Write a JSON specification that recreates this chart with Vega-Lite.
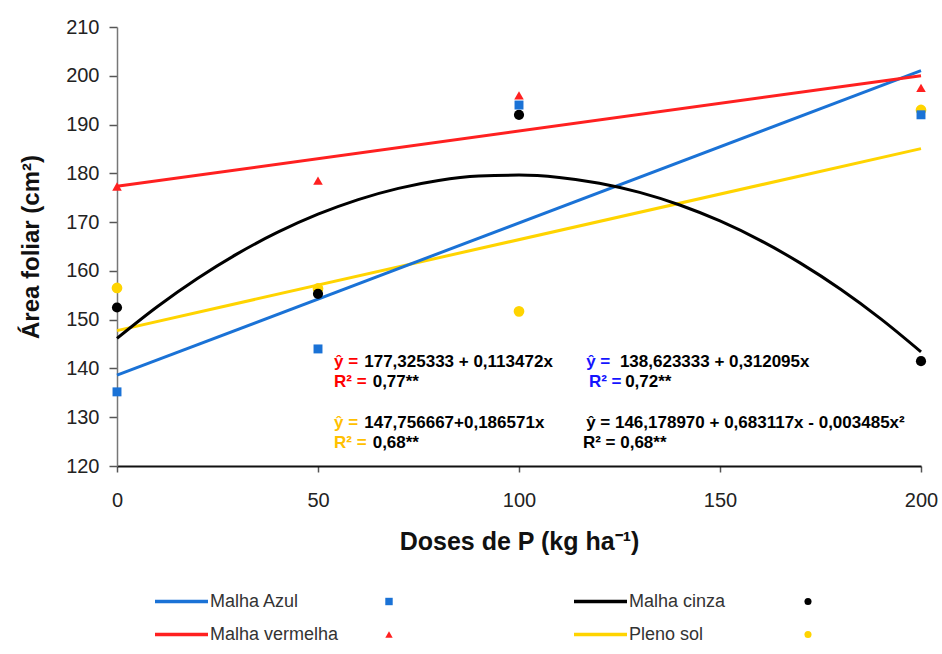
{
  "$schema": "https://vega.github.io/schema/vega-lite/v6.json",
  "background": "white",
  "padding": {"left": 19, "top": 17, "right": 5, "bottom": 5},
  "autosize": {"type": "pad"},
  "config": {"view": {"stroke": null}, "font": "Liberation Sans", "axis": {"grid": false}},
  "datasets": {
    "means": [
      {"series": "Pleno sol", "dose": 0, "area": 156.5},
      {"series": "Pleno sol", "dose": 50, "area": 156.4},
      {"series": "Pleno sol", "dose": 100, "area": 151.7},
      {"series": "Pleno sol", "dose": 200, "area": 193.0},
      {"series": "Malha cinza", "dose": 0, "area": 152.5},
      {"series": "Malha cinza", "dose": 50, "area": 155.3},
      {"series": "Malha cinza", "dose": 100, "area": 192.0},
      {"series": "Malha cinza", "dose": 200, "area": 141.5},
      {"series": "Malha Azul", "dose": 0, "area": 135.2},
      {"series": "Malha Azul", "dose": 50, "area": 144.0},
      {"series": "Malha Azul", "dose": 100, "area": 194.0},
      {"series": "Malha Azul", "dose": 200, "area": 192.0},
      {"series": "Malha vermelha", "dose": 0, "area": 177.3},
      {"series": "Malha vermelha", "dose": 50, "area": 178.5},
      {"series": "Malha vermelha", "dose": 100, "area": 196.0},
      {"series": "Malha vermelha", "dose": 200, "area": 197.5}
    ],
    "fits": [
      {"series": "Pleno sol", "dose": 0, "area": 147.76},
      {"series": "Pleno sol", "dose": 200, "area": 185.07},
      {"series": "Malha Azul", "dose": 0, "area": 138.62},
      {"series": "Malha Azul", "dose": 200, "area": 201.04},
      {"series": "Malha cinza", "dose": 0, "area": 146.18},
      {"series": "Malha cinza", "dose": 10, "area": 152.66},
      {"series": "Malha cinza", "dose": 20, "area": 158.45},
      {"series": "Malha cinza", "dose": 30, "area": 163.54},
      {"series": "Malha cinza", "dose": 40, "area": 167.93},
      {"series": "Malha cinza", "dose": 50, "area": 171.62},
      {"series": "Malha cinza", "dose": 60, "area": 174.62},
      {"series": "Malha cinza", "dose": 70, "area": 176.92},
      {"series": "Malha cinza", "dose": 80, "area": 178.53},
      {"series": "Malha cinza", "dose": 90, "area": 179.43},
      {"series": "Malha cinza", "dose": 100, "area": 179.64},
      {"series": "Malha cinza", "dose": 110, "area": 179.15},
      {"series": "Malha cinza", "dose": 120, "area": 177.97},
      {"series": "Malha cinza", "dose": 130, "area": 176.09},
      {"series": "Malha cinza", "dose": 140, "area": 173.51},
      {"series": "Malha cinza", "dose": 150, "area": 170.23},
      {"series": "Malha cinza", "dose": 160, "area": 166.26},
      {"series": "Malha cinza", "dose": 170, "area": 161.59},
      {"series": "Malha cinza", "dose": 180, "area": 156.23},
      {"series": "Malha cinza", "dose": 190, "area": 150.16},
      {"series": "Malha cinza", "dose": 200, "area": 143.40},
      {"series": "Malha vermelha", "dose": 0, "area": 177.33},
      {"series": "Malha vermelha", "dose": 200, "area": 200.02}
    ],
    "legendLeft": [{"series": "Malha Azul"}, {"series": "Malha vermelha"}],
    "legendRight": [{"series": "Malha cinza"}, {"series": "Pleno sol"}]
  },
  "resolve": {"scale": {"x": "independent", "y": "independent"}},
  "spacing": 31,
  "vconcat": [
    {
      "width": 804,
      "height": 439,
      "layer": [
        {
          "data": {"name": "fits"},
          "mark": {"type": "line", "strokeWidth": 3, "interpolate": "monotone"},
          "encoding": {
            "x": {"field": "dose", "type": "quantitative",
              "scale": {"domain": [0, 200], "nice": false},
              "axis": {"title": "Doses de P (kg ha⁻¹)", "values": [0, 50, 100, 150, 200], "tickSize": 6, "labelPadding": 18,
                "labelFontSize": 20, "labelColor": "#222", "labelFlush": false, "titleFontSize": 25, "titleFontWeight": "bold",
                "titleColor": "#111", "titlePadding": 19, "domainColor": "#111", "domainWidth": 2, "tickColor": "#555", "tickWidth": 1.5}},
            "y": {"field": "area", "type": "quantitative",
              "scale": {"domain": [120, 210], "nice": false, "zero": false},
              "axis": {"title": "Área foliar (cm²)", "values": [120, 130, 140, 150, 160, 170, 180, 190, 200, 210], "tickSize": 8, "labelPadding": 10,
                "labelFontSize": 20, "labelColor": "#222", "labelFlush": false, "titleFontSize": 24, "titleFontWeight": "bold",
                "titleColor": "#111", "titlePadding": 22, "domainColor": "#777", "domainWidth": 1.5, "tickColor": "#555", "tickWidth": 1.5}},
            "color": {"field": "series", "type": "nominal",
              "scale": {"domain": ["Malha Azul", "Malha vermelha", "Malha cinza", "Pleno sol"], "range": ["#1a72d6", "#ff2020", "#000000", "#ffd400"]},
              "legend": null}
          }
        },
        {
          "data": {"name": "means"},
          "mark": {"type": "point", "filled": true, "opacity": 1},
          "encoding": {
            "x": {"field": "dose", "type": "quantitative"},
            "y": {"field": "area", "type": "quantitative"},
            "color": {"field": "series", "type": "nominal", "legend": null},
            "shape": {"field": "series", "type": "nominal",
              "scale": {"domain": ["Malha Azul", "Malha vermelha", "Malha cinza", "Pleno sol"], "range": ["square", "triangle-up", "circle", "circle"]},
              "legend": null},
            "size": {"field": "series", "type": "nominal",
              "scale": {"domain": ["Malha Azul", "Malha vermelha", "Malha cinza", "Pleno sol"], "range": [80, 115, 60, 60]},
              "legend": null}
          }
        },
        {"data": {"values": [{"t": "ŷ ="}]}, "mark": {"type": "text", "align": "left", "baseline": "middle", "fontSize": 17, "fontWeight": "bold", "color": "#ff0000"},
          "encoding": {"x": {"datum": 54.0, "type": "quantitative"}, "y": {"datum": 141.3, "type": "quantitative"}, "text": {"field": "t"}}},
        {"data": {"values": [{"t": "177,325333 + 0,113472x"}]}, "mark": {"type": "text", "align": "left", "baseline": "middle", "fontSize": 17, "fontWeight": "bold", "color": "#000"},
          "encoding": {"x": {"datum": 61.5, "type": "quantitative"}, "y": {"datum": 141.3, "type": "quantitative"}, "text": {"field": "t"}}},
        {"data": {"values": [{"t": "R² ="}]}, "mark": {"type": "text", "align": "left", "baseline": "middle", "fontSize": 17, "fontWeight": "bold", "color": "#ff0000"},
          "encoding": {"x": {"datum": 54.0, "type": "quantitative"}, "y": {"datum": 137.2, "type": "quantitative"}, "text": {"field": "t"}}},
        {"data": {"values": [{"t": "0,77**"}]}, "mark": {"type": "text", "align": "left", "baseline": "middle", "fontSize": 17, "fontWeight": "bold", "color": "#000"},
          "encoding": {"x": {"datum": 63.6, "type": "quantitative"}, "y": {"datum": 137.2, "type": "quantitative"}, "text": {"field": "t"}}},
        {"data": {"values": [{"t": "ŷ ="}]}, "mark": {"type": "text", "align": "left", "baseline": "middle", "fontSize": 17, "fontWeight": "bold", "color": "#1414ff"},
          "encoding": {"x": {"datum": 116.7, "type": "quantitative"}, "y": {"datum": 141.3, "type": "quantitative"}, "text": {"field": "t"}}},
        {"data": {"values": [{"t": "138,623333 + 0,312095x"}]}, "mark": {"type": "text", "align": "left", "baseline": "middle", "fontSize": 17, "fontWeight": "bold", "color": "#000"},
          "encoding": {"x": {"datum": 125.1, "type": "quantitative"}, "y": {"datum": 141.3, "type": "quantitative"}, "text": {"field": "t"}}},
        {"data": {"values": [{"t": "R² ="}]}, "mark": {"type": "text", "align": "left", "baseline": "middle", "fontSize": 17, "fontWeight": "bold", "color": "#1414ff"},
          "encoding": {"x": {"datum": 117.4, "type": "quantitative"}, "y": {"datum": 137.2, "type": "quantitative"}, "text": {"field": "t"}}},
        {"data": {"values": [{"t": "0,72**"}]}, "mark": {"type": "text", "align": "left", "baseline": "middle", "fontSize": 17, "fontWeight": "bold", "color": "#000"},
          "encoding": {"x": {"datum": 126.4, "type": "quantitative"}, "y": {"datum": 137.2, "type": "quantitative"}, "text": {"field": "t"}}},
        {"data": {"values": [{"t": "ŷ ="}]}, "mark": {"type": "text", "align": "left", "baseline": "middle", "fontSize": 17, "fontWeight": "bold", "color": "#ffc000"},
          "encoding": {"x": {"datum": 54.0, "type": "quantitative"}, "y": {"datum": 128.8, "type": "quantitative"}, "text": {"field": "t"}}},
        {"data": {"values": [{"t": "147,756667+0,186571x"}]}, "mark": {"type": "text", "align": "left", "baseline": "middle", "fontSize": 17, "fontWeight": "bold", "color": "#000"},
          "encoding": {"x": {"datum": 61.5, "type": "quantitative"}, "y": {"datum": 128.8, "type": "quantitative"}, "text": {"field": "t"}}},
        {"data": {"values": [{"t": "R² ="}]}, "mark": {"type": "text", "align": "left", "baseline": "middle", "fontSize": 17, "fontWeight": "bold", "color": "#ffc000"},
          "encoding": {"x": {"datum": 54.0, "type": "quantitative"}, "y": {"datum": 124.7, "type": "quantitative"}, "text": {"field": "t"}}},
        {"data": {"values": [{"t": "0,68**"}]}, "mark": {"type": "text", "align": "left", "baseline": "middle", "fontSize": 17, "fontWeight": "bold", "color": "#000"},
          "encoding": {"x": {"datum": 63.6, "type": "quantitative"}, "y": {"datum": 124.7, "type": "quantitative"}, "text": {"field": "t"}}},
        {"data": {"values": [{"t": "ŷ =  146,178970 + 0,683117x - 0,003485x²"}]}, "mark": {"type": "text", "align": "left", "baseline": "middle", "fontSize": 17, "fontWeight": "bold", "color": "#000"},
          "encoding": {"x": {"datum": 116.7, "type": "quantitative"}, "y": {"datum": 128.8, "type": "quantitative"}, "text": {"field": "t"}}},
        {"data": {"values": [{"t": "R² = 0,68**"}]}, "mark": {"type": "text", "align": "left", "baseline": "middle", "fontSize": 17, "fontWeight": "bold", "color": "#000"},
          "encoding": {"x": {"datum": 115.9, "type": "quantitative"}, "y": {"datum": 124.7, "type": "quantitative"}, "text": {"field": "t"}}}
      ]
    },
    {
      "spacing": 19,
      "resolve": {"scale": {"x": "independent", "y": "independent"}},
      "hconcat": [
        {
          "width": 400,
          "height": 66,
          "data": {"name": "legendLeft"},
          "layer": [
            {"mark": {"type": "rule", "strokeWidth": 3.5},
              "encoding": {
                "x": {"datum": 3.8, "type": "quantitative", "scale": {"domain": [0, 40], "nice": false, "zero": false}, "axis": null},
                "x2": {"datum": 9.1},
                "y": {"field": "series", "type": "nominal", "scale": {"type": "point", "padding": 0.5, "domain": ["Malha Azul", "Malha vermelha"]}, "axis": null},
                "color": {"field": "series", "type": "nominal", "legend": null}}},
            {"mark": {"type": "text", "align": "left", "baseline": "middle", "fontSize": 18, "color": "#333"},
              "encoding": {
                "x": {"datum": 9.3, "type": "quantitative"},
                "y": {"field": "series", "type": "nominal"},
                "text": {"field": "series"}}},
            {"mark": {"type": "point", "filled": true, "opacity": 1, "size": 55},
              "encoding": {
                "x": {"datum": 27.2, "type": "quantitative"},
                "y": {"field": "series", "type": "nominal"},
                "color": {"field": "series", "type": "nominal", "legend": null},
                "shape": {"field": "series", "type": "nominal", "legend": null}}}
          ]
        },
        {
          "width": 400,
          "height": 66,
          "data": {"name": "legendRight"},
          "layer": [
            {"mark": {"type": "rule", "strokeWidth": 3.5},
              "encoding": {
                "x": {"datum": 3.8, "type": "quantitative", "scale": {"domain": [0, 40], "nice": false, "zero": false}, "axis": null},
                "x2": {"datum": 9.1},
                "y": {"field": "series", "type": "nominal", "scale": {"type": "point", "padding": 0.5, "domain": ["Malha cinza", "Pleno sol"]}, "axis": null},
                "color": {"field": "series", "type": "nominal", "legend": null}}},
            {"mark": {"type": "text", "align": "left", "baseline": "middle", "fontSize": 18, "color": "#333"},
              "encoding": {
                "x": {"datum": 9.3, "type": "quantitative"},
                "y": {"field": "series", "type": "nominal"},
                "text": {"field": "series"}}},
            {"mark": {"type": "point", "filled": true, "opacity": 1, "size": 50},
              "encoding": {
                "x": {"datum": 27.2, "type": "quantitative"},
                "y": {"field": "series", "type": "nominal"},
                "color": {"field": "series", "type": "nominal", "legend": null},
                "shape": {"field": "series", "type": "nominal", "legend": null}}}
          ]
        }
      ]
    }
  ]
}
